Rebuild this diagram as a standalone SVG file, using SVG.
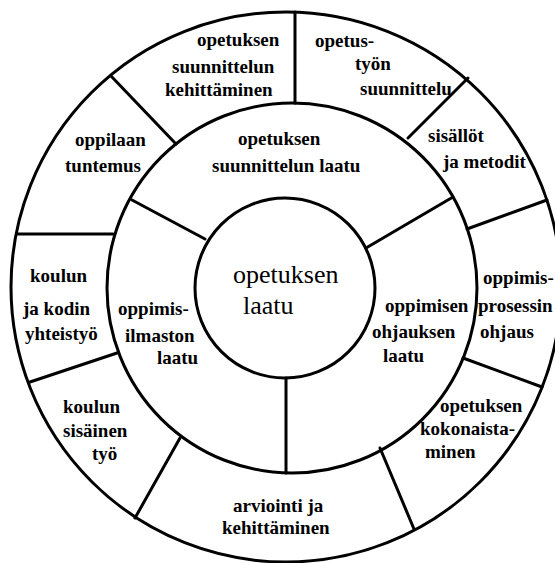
<svg xmlns="http://www.w3.org/2000/svg" width="555" height="563" viewBox="0 0 555 563">
<style>
.ring{fill:none;stroke:#000;stroke-width:3}
.div{stroke:#000;stroke-width:3;stroke-linecap:round}
.t{font-family:"Liberation Serif","Times New Roman",serif;font-size:19px;font-weight:bold;fill:#000}
.c{font-family:"Liberation Serif","Times New Roman",serif;font-size:26px;fill:#000}
</style>
<rect width="555" height="563" fill="#fff"/>
<g id="rings">
<circle class="ring" cx="286" cy="287" r="275"/>
<circle class="ring" cx="292" cy="288" r="185"/>
<circle class="ring" cx="285" cy="288" r="90"/>
</g>
<g id="connectors">
<line class="div" x1="295" y1="12" x2="295" y2="103"/>
<line class="div" x1="408" y1="138" x2="468" y2="78"/>
<line class="div" x1="467" y1="229" x2="547" y2="200"/>
<line class="div" x1="463" y1="358" x2="542" y2="387"/>
<line class="div" x1="380" y1="448" x2="414" y2="529"/>
<line class="div" x1="180" y1="438" x2="135" y2="518"/>
<line class="div" x1="117" y1="353" x2="30" y2="382"/>
<line class="div" x1="18" y1="234" x2="113" y2="234"/>
<line class="div" x1="111" y1="76" x2="176" y2="144"/>
<line class="div" x1="132" y1="200" x2="205" y2="239"/>
<line class="div" x1="366" y1="248" x2="453" y2="197"/>
<line class="div" x1="286" y1="378" x2="286" y2="473"/>
</g>
<g id="center">
<text class="c" x="233" y="283">opetuksen</text>
<text class="c" x="243" y="314">laatu</text>
</g>
<g id="m-suunnittelun-laatu">
<text class="t" x="238" y="145">opetuksen</text>
<text class="t" x="212" y="172">suunnittelun laatu</text>
</g>
<g id="m-ohjauksen-laatu">
<text class="t" x="385" y="312">oppimisen</text>
<text class="t" x="372" y="338">ohjauksen</text>
<text class="t" x="383" y="362">laatu</text>
</g>
<g id="m-ilmaston-laatu">
<text class="t" x="118" y="315">oppimis-</text>
<text class="t" x="125" y="342">ilmaston</text>
<text class="t" x="157" y="364">laatu</text>
</g>
<g id="o-kehittaminen">
<text class="t" x="197" y="46">opetuksen</text>
<text class="t" x="172" y="73">suunnittelun</text>
<text class="t" x="165" y="96">kehittäminen</text>
</g>
<g id="o-suunnittelu">
<text class="t" x="315" y="47">opetus-</text>
<text class="t" x="355" y="70">työn</text>
<text class="t" x="360" y="95">suunnittelu</text>
</g>
<g id="o-sisallot">
<text class="t" x="428" y="142">sisällöt</text>
<text class="t" x="443" y="168">ja metodit</text>
</g>
<g id="o-prosessin">
<text class="t" x="483" y="284">oppimis-</text>
<text class="t" x="478" y="312">prosessin</text>
<text class="t" x="480" y="338">ohjaus</text>
</g>
<g id="o-kokonaistaminen">
<text class="t" x="440" y="412">opetuksen</text>
<text class="t" x="420" y="435">kokonaista-</text>
<text class="t" x="425" y="458">minen</text>
</g>
<g id="o-arviointi">
<text class="t" x="233" y="512">arviointi ja</text>
<text class="t" x="222" y="534">kehittäminen</text>
</g>
<g id="o-sisainen">
<text class="t" x="63" y="413">koulun</text>
<text class="t" x="63" y="437">sisäinen</text>
<text class="t" x="92" y="460">työ</text>
</g>
<g id="o-yhteistyo">
<text class="t" x="30" y="282">koulun</text>
<text class="t" x="23" y="315">ja kodin</text>
<text class="t" x="25" y="340">yhteistyö</text>
</g>
<g id="o-tuntemus">
<text class="t" x="75" y="146">oppilaan</text>
<text class="t" x="65" y="172">tuntemus</text>
</g>
</svg>
